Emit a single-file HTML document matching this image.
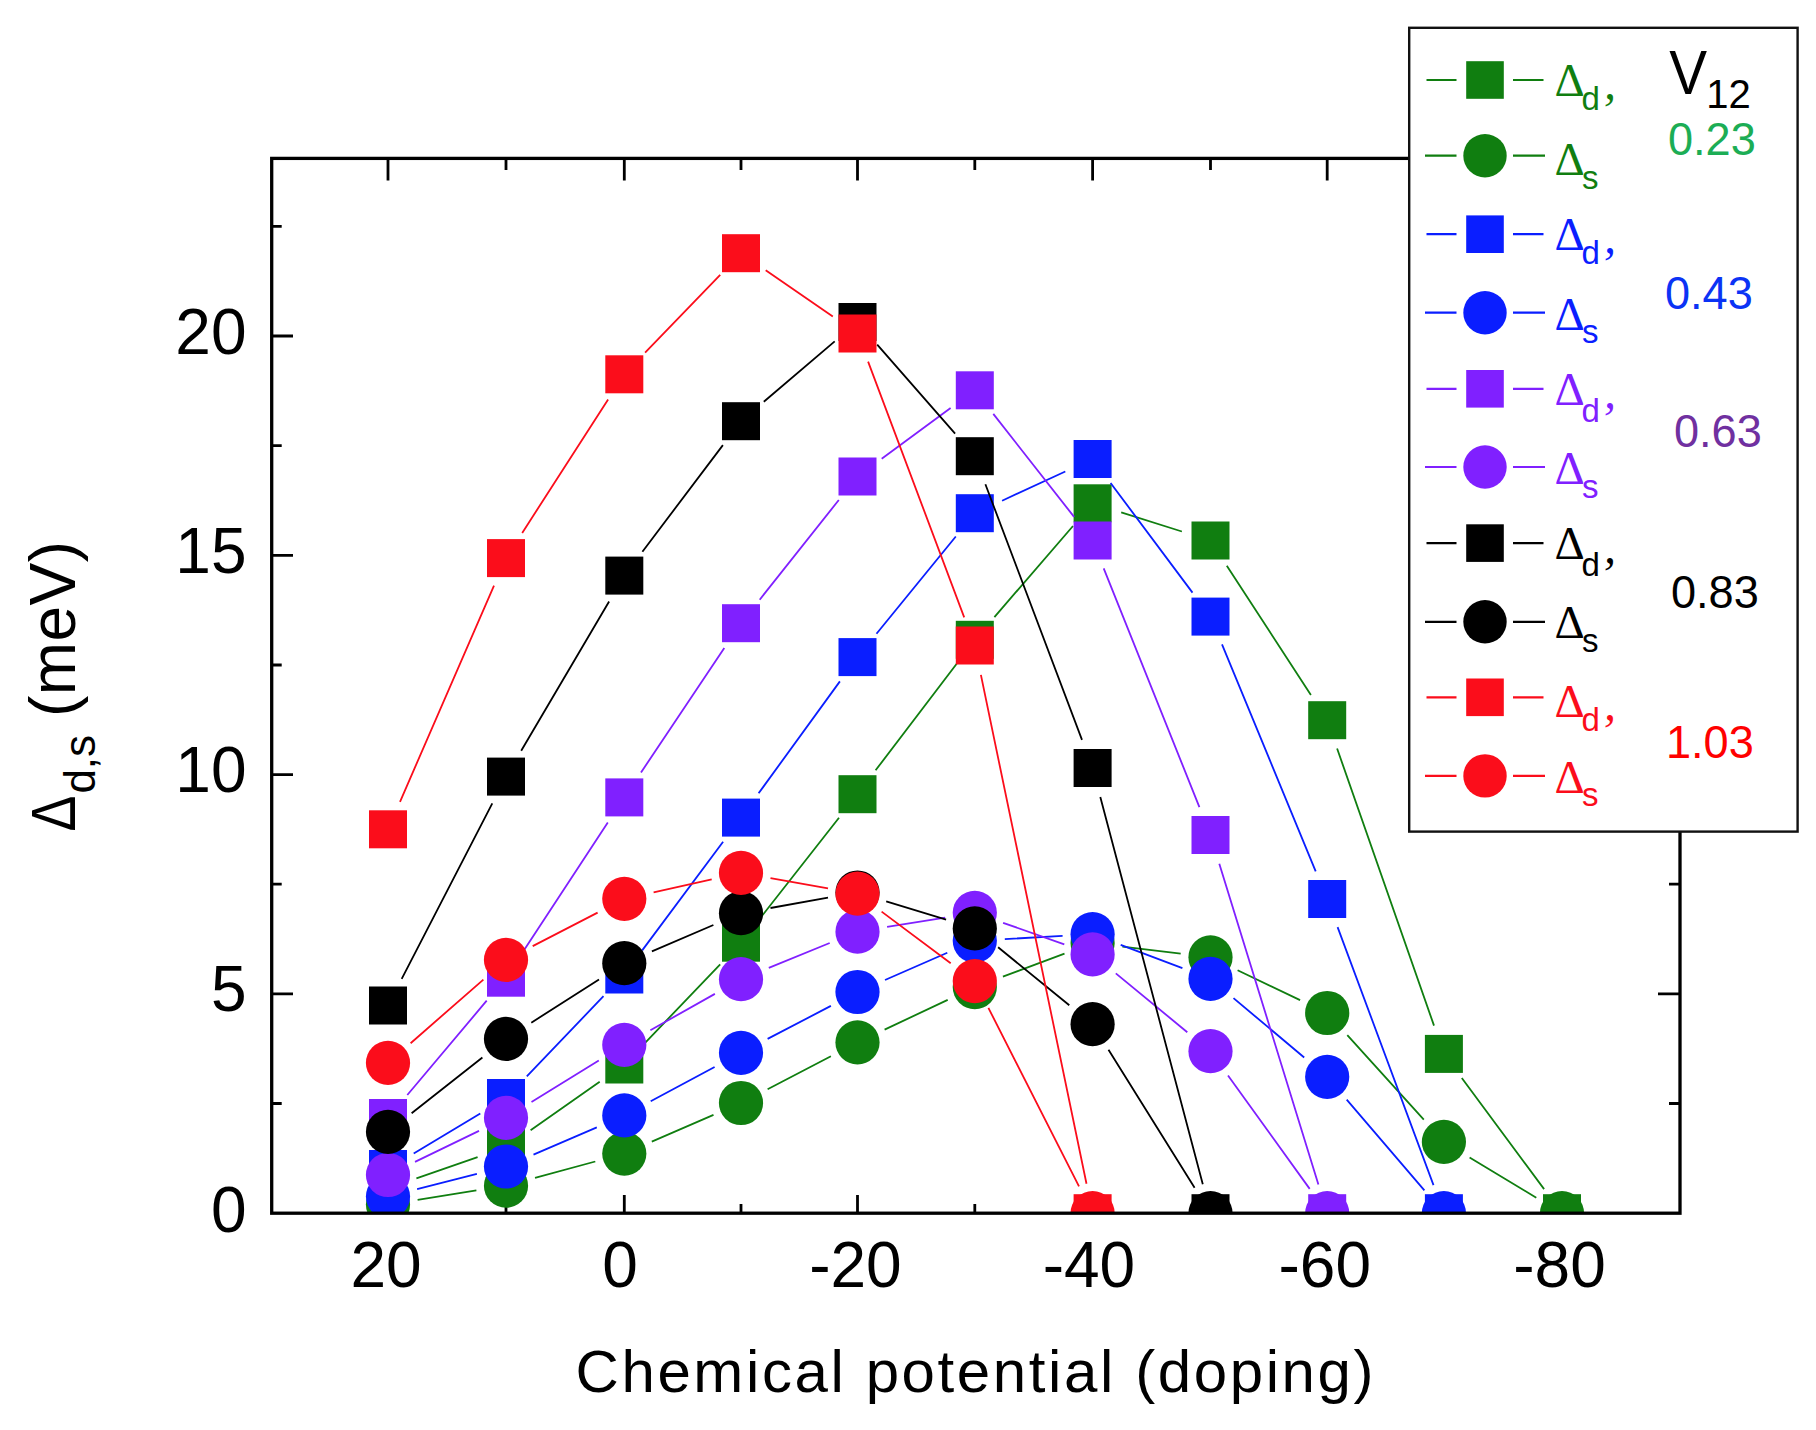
<!DOCTYPE html>
<html><head><meta charset="utf-8"><title>Gap vs chemical potential</title>
<style>
html,body{margin:0;padding:0;background:#fff}
svg{display:block}
text{font-family:"Liberation Sans",sans-serif}
.dl{font-family:"Liberation Serif",serif;font-size:47px}
.sb{font-size:33px}
.cm{font-family:"Liberation Serif",serif;font-size:48px;font-style:italic}
</style></head><body>
<svg width="1816" height="1430" viewBox="0 0 1816 1430">
<rect width="1816" height="1430" fill="#fff"/>
<defs><clipPath id="pc"><rect x="271.7" y="158.4" width="1408.3" height="1054.8"/></clipPath></defs>
<path d="M388 158.4v22M388 1213.2v-18.2M624.3 158.4v22M624.3 1213.2v-18.2M857.5 158.4v22M857.5 1213.2v-18.2M1092.6 158.4v22M1092.6 1213.2v-18.2M1327.2 158.4v22M1327.2 1213.2v-18.2M1562 158.4v22M1562 1213.2v-18.2M506 158.4v11.5M506 1213.2v-9.3M741 158.4v11.5M741 1213.2v-9.3M974.8 158.4v11.5M974.8 1213.2v-9.3M1210.5 158.4v11.5M1210.5 1213.2v-9.3M1443.9 158.4v11.5M1443.9 1213.2v-9.3M271.7 993.9h21.3M1680 993.9h-22M271.7 774.6h21.3M1680 774.6h-22M271.7 555.3h21.3M1680 555.3h-22M271.7 336h21.3M1680 336h-22M271.7 1103.5h10M1680 1103.5h-11M271.7 884.2h10M1680 884.2h-11M271.7 665h10M1680 665h-11M271.7 445.7h10M1680 445.7h-11M271.7 226.4h10M1680 226.4h-11" stroke="#000" stroke-width="2.8" fill="none"/>
<g clip-path="url(#pc)">
<g fill="#107e10">
<path d="M416.4 1178.3L477.6 1157.2M530.6 1130.3L599.7 1081.7M645.1 1042.8L720.2 964.4M759.5 919.1L839 817.8M875.6 770.3L956.7 663.7M994.4 617.1L1073 526M1121.2 512.3L1181.9 531.5M1226.8 565.7L1310.9 695M1337.1 748.5L1434 1025.6M1461.8 1078L1544.1 1189.1" stroke="#107e10" stroke-width="1.8" fill="none"/>
<rect x="369" y="1169" width="38" height="38"/>
<rect x="487" y="1128.5" width="38" height="38"/>
<rect x="605.3" y="1045.5" width="38" height="38"/>
<rect x="722" y="923.7" width="38" height="38"/>
<rect x="838.5" y="775.2" width="38" height="38"/>
<rect x="955.8" y="620.8" width="38" height="38"/>
<rect x="1073.6" y="484.3" width="38" height="38"/>
<rect x="1191.5" y="521.5" width="38" height="38"/>
<rect x="1308.2" y="701.2" width="38" height="38"/>
<rect x="1424.9" y="1034.9" width="38" height="38"/>
<rect x="1543" y="1194.2" width="38" height="38"/>
<path d="M417.6 1199.9L476.4 1190.4M535 1177.8L595.3 1161.5M651.8 1141.7L713.5 1114.9M767.6 1089.2L830.9 1056.2M884.6 1029.6L947.7 999.9M1002.9 976.6L1064.5 953.6M1122.4 946.7L1180.7 953.7M1237.6 970.2L1300.1 1000.1M1347.3 1035.2L1423.8 1119.7M1469.6 1157.4L1536.3 1197.7" stroke="#107e10" stroke-width="1.8" fill="none"/>
<circle cx="388" cy="1204.6" r="22.1"/>
<circle cx="506" cy="1185.7" r="22.1"/>
<circle cx="624.3" cy="1153.6" r="22.1"/>
<circle cx="741" cy="1103" r="22.1"/>
<circle cx="857.5" cy="1042.4" r="22.1"/>
<circle cx="974.8" cy="987.1" r="22.1"/>
<circle cx="1092.6" cy="943.1" r="22.1"/>
<circle cx="1210.5" cy="957.3" r="22.1"/>
<circle cx="1327.2" cy="1013" r="22.1"/>
<circle cx="1443.9" cy="1141.9" r="22.1"/>
<circle cx="1562" cy="1213.2" r="22.1"/>
</g>
<g fill="#0a1eff">
<path d="M413.7 1153.5L480.3 1113.5M526.8 1076.3L603.5 996.2M642.2 950.4L723.1 841.7M758.6 793.3L839.9 681.4M876.5 633.8L955.8 536.5M1002.1 500.7L1065.3 471.5M1110.6 483L1192.5 592.6M1222 644.3L1315.7 871.3M1337.6 927.1L1433.5 1185.1" stroke="#0a1eff" stroke-width="1.8" fill="none"/>
<rect x="369" y="1150" width="38" height="38"/>
<rect x="487" y="1079" width="38" height="38"/>
<rect x="605.3" y="955.5" width="38" height="38"/>
<rect x="722" y="798.6" width="38" height="38"/>
<rect x="838.5" y="638.1" width="38" height="38"/>
<rect x="955.8" y="494.2" width="38" height="38"/>
<rect x="1073.6" y="440" width="38" height="38"/>
<rect x="1191.5" y="597.6" width="38" height="38"/>
<rect x="1308.2" y="880" width="38" height="38"/>
<rect x="1424.9" y="1194.2" width="38" height="38"/>
<path d="M417.1 1189.1L476.9 1173.9M533.5 1154.6L596.8 1127.3M650.7 1101.2L714.6 1067M767.6 1038.9L830.9 1005.9M885 980L947.3 952.8M1004.8 939.1L1062.6 935.9M1120.7 944.8L1182.4 968.2M1233.5 998.1L1304.2 1057.5M1346.7 1099.6L1424.4 1190.4" stroke="#0a1eff" stroke-width="1.8" fill="none"/>
<circle cx="388" cy="1196.5" r="22.1"/>
<circle cx="506" cy="1166.5" r="22.1"/>
<circle cx="624.3" cy="1115.4" r="22.1"/>
<circle cx="741" cy="1052.8" r="22.1"/>
<circle cx="857.5" cy="992" r="22.1"/>
<circle cx="974.8" cy="940.8" r="22.1"/>
<circle cx="1092.6" cy="934.2" r="22.1"/>
<circle cx="1210.5" cy="978.8" r="22.1"/>
<circle cx="1327.2" cy="1076.8" r="22.1"/>
<circle cx="1443.9" cy="1213.2" r="22.1"/>
</g>
<g fill="#8020ff">
<path d="M407.3 1095L486.7 1000.7M522.5 952.6L607.8 822.5M641 772.5L724.3 648.1M759.7 599.7L838.8 500M881.7 458.7L950.6 408.1M993.3 413.9L1074.1 516.9M1103.7 568.4L1199.4 807.1M1219.3 863.7L1318.4 1184.5" stroke="#8020ff" stroke-width="1.8" fill="none"/>
<rect x="369" y="1099" width="38" height="38"/>
<rect x="487" y="958.7" width="38" height="38"/>
<rect x="605.3" y="778.4" width="38" height="38"/>
<rect x="722" y="604.2" width="38" height="38"/>
<rect x="838.5" y="457.5" width="38" height="38"/>
<rect x="955.8" y="371.3" width="38" height="38"/>
<rect x="1073.6" y="521.5" width="38" height="38"/>
<rect x="1191.5" y="816" width="38" height="38"/>
<rect x="1308.2" y="1194.2" width="38" height="38"/>
<path d="M415 1161.9L479 1130.9M531.5 1102.1L598.8 1060.6M650.4 1030.2L714.9 993.9M768.8 967.9L829.7 943M887.1 926.9L945.2 917.6M1003.1 922.8L1064.3 944.4M1115.8 973.4L1187.3 1032.2M1228 1075.5L1309.7 1188.9" stroke="#8020ff" stroke-width="1.8" fill="none"/>
<circle cx="388" cy="1175" r="22.1"/>
<circle cx="506" cy="1117.8" r="22.1"/>
<circle cx="624.3" cy="1044.9" r="22.1"/>
<circle cx="741" cy="979.2" r="22.1"/>
<circle cx="857.5" cy="931.7" r="22.1"/>
<circle cx="974.8" cy="912.8" r="22.1"/>
<circle cx="1092.6" cy="954.4" r="22.1"/>
<circle cx="1210.5" cy="1051.2" r="22.1"/>
<circle cx="1327.2" cy="1213.2" r="22.1"/>
</g>
<g fill="#000000">
<path d="M401.7 978.8L492.3 803.3M521.2 750.7L609.1 601.5M642.4 551.7L722.9 445.1M763.8 401.8L834.7 341.4M877.2 344.6L955.1 433.6M985.4 484.3L1082 739.9M1100.3 797L1202.8 1184.2" stroke="#000000" stroke-width="1.8" fill="none"/>
<rect x="369" y="986.5" width="38" height="38"/>
<rect x="487" y="757.6" width="38" height="38"/>
<rect x="605.3" y="556.6" width="38" height="38"/>
<rect x="722" y="402.2" width="38" height="38"/>
<rect x="838.5" y="303" width="38" height="38"/>
<rect x="955.8" y="437.2" width="38" height="38"/>
<rect x="1073.6" y="749" width="38" height="38"/>
<rect x="1191.5" y="1194.2" width="38" height="38"/>
<path d="M411.6 1113.2L482.4 1057.5M531.3 1022.7L599 979.4M651.9 951.4L713.4 925M770.5 908L828 897.7M886.2 901.3L946.1 919.6M998.1 947.3L1069.3 1005.3M1108.5 1049.7L1194.6 1187.7" stroke="#000000" stroke-width="1.8" fill="none"/>
<circle cx="388" cy="1131.8" r="22.1"/>
<circle cx="506" cy="1038.9" r="22.1"/>
<circle cx="624.3" cy="963.2" r="22.1"/>
<circle cx="741" cy="913.2" r="22.1"/>
<circle cx="857.5" cy="892.5" r="22.1"/>
<circle cx="974.8" cy="928.4" r="22.1"/>
<circle cx="1092.6" cy="1024.2" r="22.1"/>
<circle cx="1210.5" cy="1213.2" r="22.1"/>
</g>
<g fill="#fb0d1b">
<path d="M400 801.8L494 585.6M522.2 532.9L608.1 399.5M645.1 352.7L720.2 274.8M765.7 270.2L832.8 316.5M868.1 361.6L964.2 617.4M980.9 674.9L1086.5 1183.8" stroke="#fb0d1b" stroke-width="1.8" fill="none"/>
<rect x="369" y="810.3" width="38" height="38"/>
<rect x="487" y="539.1" width="38" height="38"/>
<rect x="605.3" y="355.3" width="38" height="38"/>
<rect x="722" y="234.2" width="38" height="38"/>
<rect x="838.5" y="314.5" width="38" height="38"/>
<rect x="955.8" y="626.5" width="38" height="38"/>
<rect x="1073.6" y="1194.2" width="38" height="38"/>
<path d="M410.6 1043.2L483.4 979.6M532.7 946.1L597.6 912.6M653.6 892.3L711.7 879.4M770.5 878.2L828 888.4M881.6 911.6L950.7 963.2M988.4 1007.9L1079 1186.4" stroke="#fb0d1b" stroke-width="1.8" fill="none"/>
<circle cx="388" cy="1062.9" r="22.1"/>
<circle cx="506" cy="959.9" r="22.1"/>
<circle cx="624.3" cy="898.8" r="22.1"/>
<circle cx="741" cy="872.9" r="22.1"/>
<circle cx="857.5" cy="893.7" r="22.1"/>
<circle cx="974.8" cy="981.1" r="22.1"/>
<circle cx="1092.6" cy="1213.2" r="22.1"/>
</g>
</g>
<rect x="271.7" y="158.4" width="1408.3" height="1054.8" fill="none" stroke="#000" stroke-width="3.3"/>
<g font-size="64" fill="#000"><text id="xt20" x="386" y="1287" text-anchor="middle">20</text>
<text id="xt0" x="620" y="1287" text-anchor="middle">0</text>
<text id="xtm20" x="855.4" y="1287" text-anchor="middle">-20</text>
<text id="xtm40" x="1088.9" y="1287" text-anchor="middle">-40</text>
<text id="xtm60" x="1324.8" y="1287" text-anchor="middle">-60</text>
<text id="xtm80" x="1559.5" y="1287" text-anchor="middle">-80</text>
<text id="yt0" x="246.5" y="1232" text-anchor="end">0</text>
<text id="yt5" x="246.5" y="1011.2" text-anchor="end">5</text>
<text id="yt10" x="246.5" y="791.6" text-anchor="end">10</text>
<text id="yt15" x="246.5" y="573.1" text-anchor="end">15</text>
<text id="yt20" x="246.5" y="353.8" text-anchor="end">20</text></g>
<text id="xlabel" x="575.5" y="1391.5" font-size="60" letter-spacing="2.6" fill="#000">Chemical potential (doping)</text>
<g id="ylabel" transform="translate(74.8,831) rotate(-90)" fill="#000">
<text id="ylD" transform="translate(-0.5,0) scale(0.86,1)" font-size="62.5" font-family="Liberation Serif, serif">Δ</text>
<text id="ylS" x="37.4" y="20.5" font-size="44">d,s</text>
<text id="ylM" x="113.9" y="0" font-size="64" letter-spacing="0.5">(meV)</text>
</g>
<rect x="1409.2" y="27.8" width="388.4" height="803.8" fill="#fff" stroke="#111" stroke-width="2.4"/>
<g fill="#107e10" stroke="none">
<path d="M1426.5 80H1456.5M1513 80H1543.5" stroke="#107e10" stroke-width="2.2"/>
<rect x="1466.2" y="61.2" width="37.6" height="37.6"/>
<text id="D0" class="dl" x="1554.5" y="95.8">Δ</text>
<text id="S0" class="sb" x="1581.5" y="110.4">d</text>
<text id="C0" class="cm" x="1604" y="99">,</text>
</g>
<g fill="#107e10" stroke="none">
<path d="M1425 155.7H1456.5M1513 155.7H1545" stroke="#107e10" stroke-width="2.2"/>
<circle cx="1485" cy="155.7" r="21.7"/>
<text id="D1" class="dl" x="1554.5" y="175.3">Δ</text>
<text id="S1" class="sb" x="1582" y="189.1">s</text>
</g>
<g fill="#0a1eff" stroke="none">
<path d="M1426.5 234.2H1456.5M1513 234.2H1543.5" stroke="#0a1eff" stroke-width="2.2"/>
<rect x="1466.2" y="215.4" width="37.6" height="37.6"/>
<text id="D2" class="dl" x="1554.5" y="249.7">Δ</text>
<text id="S2" class="sb" x="1581.5" y="264.4">d</text>
<text id="C2" class="cm" x="1604" y="252.9">,</text>
</g>
<g fill="#0a1eff" stroke="none">
<path d="M1425 312.7H1456.5M1513 312.7H1545" stroke="#0a1eff" stroke-width="2.2"/>
<circle cx="1485" cy="312.7" r="21.7"/>
<text id="D3" class="dl" x="1554.5" y="329.8">Δ</text>
<text id="S3" class="sb" x="1582" y="342.7">s</text>
</g>
<g fill="#8020ff" stroke="none">
<path d="M1426.5 388.8H1456.5M1513 388.8H1543.5" stroke="#8020ff" stroke-width="2.2"/>
<rect x="1466.2" y="370" width="37.6" height="37.6"/>
<text id="D4" class="dl" x="1554.5" y="404.7">Δ</text>
<text id="S4" class="sb" x="1581.5" y="421.5">d</text>
<text id="C4" class="cm" x="1604" y="407.9">,</text>
</g>
<g fill="#8020ff" stroke="none">
<path d="M1425 467H1456.5M1513 467H1545" stroke="#8020ff" stroke-width="2.2"/>
<circle cx="1485" cy="467" r="21.7"/>
<text id="D5" class="dl" x="1554.5" y="483.7">Δ</text>
<text id="S5" class="sb" x="1582" y="498.2">s</text>
</g>
<g fill="#000" stroke="none">
<path d="M1426.5 543.1H1456.5M1513 543.1H1543.5" stroke="#000" stroke-width="2.2"/>
<rect x="1466.2" y="524.3" width="37.6" height="37.6"/>
<text id="D6" class="dl" x="1554.5" y="559.3">Δ</text>
<text id="S6" class="sb" x="1581.5" y="576">d</text>
<text id="C6" class="cm" x="1604" y="562.5">,</text>
</g>
<g fill="#000" stroke="none">
<path d="M1425 621.8H1456.5M1513 621.8H1545" stroke="#000" stroke-width="2.2"/>
<circle cx="1485" cy="621.8" r="21.7"/>
<text id="D7" class="dl" x="1554.5" y="637.6">Δ</text>
<text id="S7" class="sb" x="1582" y="651.7">s</text>
</g>
<g fill="#fb0d1b" stroke="none">
<path d="M1426.5 697.3H1456.5M1513 697.3H1543.5" stroke="#fb0d1b" stroke-width="2.2"/>
<rect x="1466.2" y="678.5" width="37.6" height="37.6"/>
<text id="D8" class="dl" x="1554.5" y="717">Δ</text>
<text id="S8" class="sb" x="1581.5" y="731.1">d</text>
<text id="C8" class="cm" x="1604" y="720.2">,</text>
</g>
<g fill="#fb0d1b" stroke="none">
<path d="M1425 775.9H1456.5M1513 775.9H1545" stroke="#fb0d1b" stroke-width="2.2"/>
<circle cx="1485" cy="775.9" r="21.7"/>
<text id="D9" class="dl" x="1554.5" y="793.1">Δ</text>
<text id="S9" class="sb" x="1582" y="806.1">s</text>
</g>
<text id="V" transform="translate(1669.3,94.2) scale(0.9,1)" font-size="63" fill="#000">V</text>
<text id="V12" x="1706.2" y="108.3" font-size="40" fill="#000">12</text>
<text id="val0" transform="translate(1668,154.5) scale(0.96,1)" font-size="47" fill="#1cad55">0.23</text>
<text id="val1" transform="translate(1665,309) scale(0.96,1)" font-size="47" fill="#0b33f5">0.43</text>
<text id="val2" transform="translate(1674,447.3) scale(0.96,1)" font-size="47" fill="#7030a0">0.63</text>
<text id="val3" transform="translate(1671,608) scale(0.96,1)" font-size="47" fill="#000">0.83</text>
<text id="val4" transform="translate(1666,757.5) scale(0.96,1)" font-size="47" fill="#ff0000">1.03</text>
</svg>
</body></html>
